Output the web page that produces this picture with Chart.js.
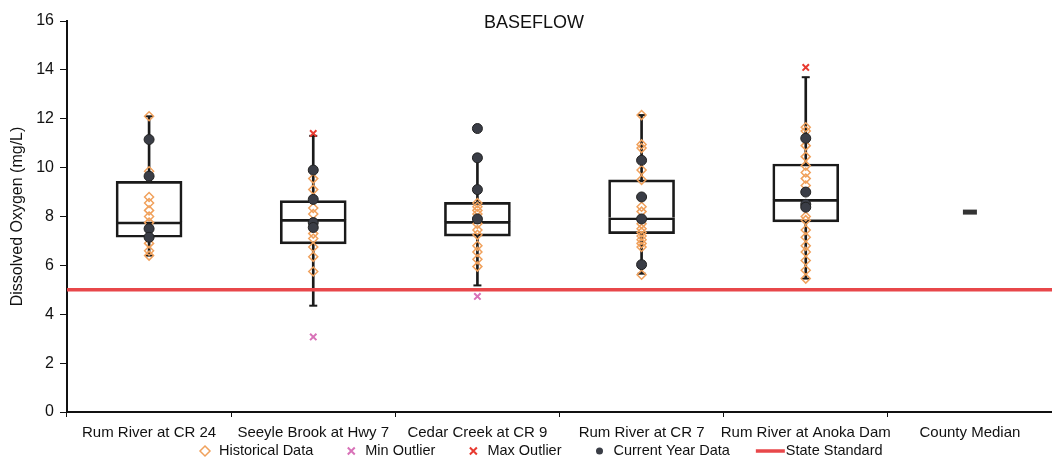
<!DOCTYPE html>
<html>
<head>
<meta charset="utf-8">
<script src="https://cdn.jsdelivr.net/npm/chart.js@4"></script>
<style>
  html, body { margin: 0; padding: 0; background: #fff; overflow: hidden; }
  #wrap { width: 1052px; height: 459px; }
</style>
</head>
<body>
<div id="wrap"><canvas id="doChart"></canvas></div>
<script>
const sites = ['Rum River at CR 24', 'Seeyle Brook at Hwy 7', 'Cedar Creek at CR 9', 'Rum River at CR 7', 'Rum River at Anoka Dam', 'County Median']

// box stats per site (null for county median)
const q1 = [7.15, 6.88, 7.2, 7.3, 7.78, null]
const median = [7.78, 7.88, 7.8, 7.95, 8.7, null]
const q3 = [9.44, 8.65, 8.58, 9.5, 10.15, null]
const whiskerLow = [6.4, 4.35, 5.18, 5.66, 5.46, null]
const whiskerHigh = [12.1, 11.3, 10.5, 12.15, 13.7, null]

const historical = [
  [12.1, 9.85, 8.8, 8.55, 8.25, 8.0, 7.75, 6.9, 6.6, 6.4],
  [9.55, 9.1, 8.35, 8.1, 7.3, 7.1, 6.75, 6.35, 5.75],
  [8.55, 8.4, 8.25, 8.1, 7.7, 7.45, 7.25, 6.8, 6.55, 6.25, 5.95],
  [12.15, 10.95, 10.8, 9.9, 9.5, 8.4, 8.2, 7.7, 7.5, 7.35, 7.2, 7.05, 6.9, 6.75, 5.62],
  [11.65, 11.5, 10.9, 10.45, 10.08, 9.8, 9.55, 9.27, 8.0, 7.85, 7.45, 7.15, 6.8, 6.55, 6.2, 5.8, 5.46],
  []
]
const currentYear = [
  [11.15, 9.65, 7.5, 7.15],
  [9.9, 8.7, 7.75, 7.55],
  [11.6, 10.4, 9.1, 7.9],
  [10.3, 8.8, 7.9, 6.03],
  [11.2, 9.0, 8.5, 8.38],
  []
]
const minOutliers = [[], [3.07], [4.73], [], [], []]
const maxOutliers = [[], [11.4], [], [], [14.1], []]
const countyMedian = 8.18
const stateStandard = 5
const yTicks = [0, 2, 4, 6, 8, 10, 12, 14, 16]

const orange = '#f0a15c'
const dark = '#3a3d46'
const minColor = '#d872b8'
const maxColor = '#e83a30'
const lineColor = '#e8474a'
const font = '"Liberation Sans", Arial, sans-serif'

function flatten(groups) {
  const pts = []
  groups.forEach((vals, i) => vals.forEach(v => pts.push({ x: sites[i], y: v })))
  return pts
}

// title + legend drawn on the canvas, laid out like the original
const extrasPlugin = {
  id: 'extras',
  afterDraw(chart) {
    const ctx = chart.ctx
    ctx.save()
    ctx.fillStyle = '#111'
    ctx.textBaseline = 'middle'
    ctx.font = '18px ' + font
    ctx.textAlign = 'center'
    ctx.fillText('BASEFLOW', 534, 23)

    ctx.font = '14.5px ' + font
    ctx.textAlign = 'left'
    const y = 451
    let x = 205
    const items = chart.data.datasets.filter(d => d.legendMark)
    items.forEach(d => {
      let tx = x + 14
      ctx.save()
      ctx.strokeStyle = d.borderColor
      ctx.fillStyle = d.backgroundColor
      if (d.legendMark === 'diamond') {
        ctx.lineWidth = 1.5
        ctx.beginPath()
        ctx.moveTo(x, y - 5); ctx.lineTo(x + 5, y); ctx.lineTo(x, y + 5); ctx.lineTo(x - 5, y); ctx.closePath()
        ctx.stroke()
      } else if (d.legendMark === 'cross') {
        ctx.lineWidth = 2
        ctx.beginPath()
        ctx.moveTo(x - 3.5, y - 3.5); ctx.lineTo(x + 3.5, y + 3.5)
        ctx.moveTo(x + 3.5, y - 3.5); ctx.lineTo(x - 3.5, y + 3.5)
        ctx.stroke()
      } else if (d.legendMark === 'dot') {
        ctx.beginPath()
        ctx.arc(x, y, 3.5, 0, Math.PI * 2)
        ctx.fill()
      } else if (d.legendMark === 'line') {
        const start = x - 12
        ctx.lineWidth = 3.5
        ctx.beginPath()
        ctx.moveTo(start, y); ctx.lineTo(start + 29, y)
        ctx.stroke()
        tx = start + 30
      }
      ctx.restore()
      ctx.fillStyle = '#111'
      ctx.fillText(d.label, tx, y)
      x = tx + ctx.measureText(d.label).width + 38
    })
    ctx.restore()
  }
}

new Chart(document.getElementById('doChart'), {
  data: {
    labels: sites,
    datasets: [
      {
        type: 'line',
        label: 'Historical Data',
        legendMark: 'diamond',
        data: flatten(historical),
        showLine: false,
        pointStyle: 'rectRot',
        pointRadius: 4.5,
        pointBorderWidth: 1.5,
        borderColor: orange,
        backgroundColor: 'rgba(255,255,255,0)',
        order: 1
      },
      {
        type: 'line',
        label: 'Min Outlier',
        legendMark: 'cross',
        data: flatten(minOutliers),
        showLine: false,
        pointStyle: 'crossRot',
        pointRadius: 4.5,
        pointBorderWidth: 2,
        borderColor: minColor,
        backgroundColor: minColor,
        order: 0
      },
      {
        type: 'line',
        label: 'Max Outlier',
        legendMark: 'cross',
        data: flatten(maxOutliers),
        showLine: false,
        pointStyle: 'crossRot',
        pointRadius: 4.5,
        pointBorderWidth: 2,
        borderColor: maxColor,
        backgroundColor: maxColor,
        order: 0
      },
      {
        type: 'line',
        label: 'Current Year Data',
        legendMark: 'dot',
        data: flatten(currentYear),
        showLine: false,
        pointStyle: 'circle',
        pointRadius: 5,
        pointBorderWidth: 1,
        borderColor: '#222',
        backgroundColor: dark,
        order: 0
      },
      {
        type: 'line',
        label: 'State Standard',
        legendMark: 'line',
        xAxisID: 'xLine',
        data: [{ x: 0, y: stateStandard }, { x: 1, y: stateStandard }],
        borderColor: lineColor,
        backgroundColor: lineColor,
        borderWidth: 3.5,
        pointRadius: 0,
        order: 2
      },
      {
        type: 'line',
        label: 'County Median',
        data: [{ x: sites[5], y: countyMedian }],
        showLine: false,
        pointStyle: 'line',
        pointRadius: 7,
        pointBorderWidth: 5,
        borderColor: '#333',
        backgroundColor: '#333',
        order: 0
      },
      {
        type: 'bar',
        label: 'box low',
        data: q1.map((v, i) => v === null ? null : [v, median[i]]),
        backgroundColor: 'rgba(255,255,255,0)',
        borderColor: '#1a1a1a',
        borderWidth: 2,
        borderSkipped: false,
        barThickness: 66,
        grouped: false,
        order: 3
      },
      {
        type: 'bar',
        label: 'box high',
        data: q3.map((v, i) => v === null ? null : [median[i], v]),
        backgroundColor: 'rgba(255,255,255,0)',
        borderColor: '#1a1a1a',
        borderWidth: 2,
        borderSkipped: 'start',
        barThickness: 66,
        grouped: false,
        order: 3
      },
      {
        type: 'bar',
        label: 'whisker low',
        data: whiskerLow.map((v, i) => v === null ? null : [v, q1[i]]),
        backgroundColor: '#1a1a1a',
        borderWidth: 0,
        barThickness: 2,
        grouped: false,
        order: 4
      },
      {
        type: 'bar',
        label: 'whisker high',
        data: whiskerHigh.map((v, i) => v === null ? null : [q3[i], v]),
        backgroundColor: '#1a1a1a',
        borderWidth: 0,
        barThickness: 2,
        grouped: false,
        order: 4
      },
      {
        type: 'line',
        label: 'caps',
        data: flatten(whiskerLow.map((v, i) => v === null ? [] : [v, whiskerHigh[i]])),
        showLine: false,
        pointStyle: 'line',
        pointRadius: 4,
        pointBorderWidth: 2,
        borderColor: '#1a1a1a',
        order: 4
      }
    ]
  },
  options: {
    responsive: true,
    maintainAspectRatio: false,
    animation: false,
    layout: { autoPadding: false, padding: { top: 21, right: 0, left: 0, bottom: 0 } },
    plugins: {
      tooltip: { enabled: false },
      title: { display: false },
      legend: { display: false }
    },
    scales: {
      x: {
        type: 'category',
        offset: true,
        afterFit: (scale) => { scale.height = 47 },
        grid: { display: true, drawOnChartArea: false, drawTicks: true, tickLength: 5, color: '#111', offset: true },
        border: { display: true, color: '#111', width: 2 },
        ticks: {
          color: '#111',
          padding: 7,
          maxRotation: 0,
          autoSkip: false,
          font: { family: font, size: 15 }
        }
      },
      xLine: {
        type: 'linear',
        min: 0,
        max: 1,
        display: false
      },
      y: {
        type: 'linear',
        min: 0,
        max: 16,
        afterBuildTicks: (scale) => { scale.ticks = yTicks.map(v => ({ value: v })) },
        afterFit: (scale) => { scale.width = 67 },
        grid: { display: true, drawOnChartArea: false, drawTicks: true, tickLength: 7, color: '#111' },
        border: { display: true, color: '#111', width: 2 },
        ticks: {
          color: '#111',
          padding: 6,
          font: { family: font, size: 16 }
        },
        title: {
          display: true,
          text: 'Dissolved Oxygen (mg/L)',
          color: '#111',
          padding: { top: 8, bottom: 0 },
          font: { family: font, size: 16 }
        }
      }
    }
  },
  plugins: [extrasPlugin]
})
</script>
</body>
</html>
